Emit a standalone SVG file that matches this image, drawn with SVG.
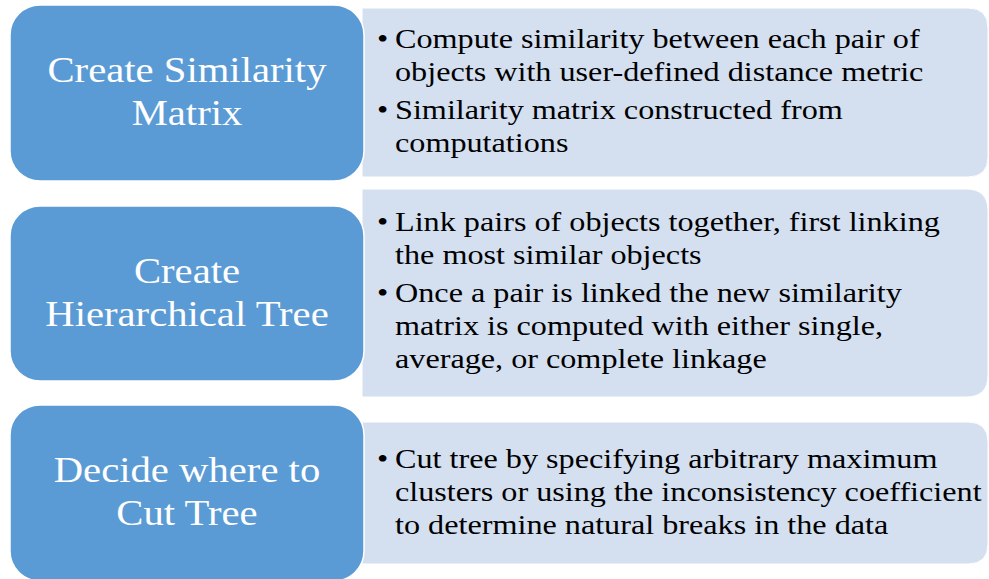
<svg xmlns="http://www.w3.org/2000/svg" width="989" height="579" viewBox="0 0 989 579">
<style>
.lb{fill:#D4DFF0;stroke:#FFFFFF;stroke-width:1}
.bb{fill:#5B9BD5;stroke:#FFFFFF;stroke-width:1.5}
.t{font-family:"Liberation Serif","Times New Roman",serif;font-size:36px;fill:#FFFFFF;text-anchor:middle}
.b{font-family:"Liberation Serif","Times New Roman",serif;font-size:28px;fill:#000000}
</style>
<rect width="989" height="579" fill="#FFFFFF"/>
<g id="node-1">
<path class="lb" d="M362,8 H968 Q988,8 988,28 V157 Q988,177 968,177 H362 Z"/>
<rect class="bb" x="10" y="5" width="354" height="176" rx="30" ry="30"/>
<g transform="scale(1.13 1)">
<text class="t" x="165.5" y="82">Create Similarity</text>
<text class="t" x="165.5" y="125">Matrix</text>
</g>
<g transform="scale(1.15 1)">
<text class="b" x="327.8" y="48">•</text>
<text class="b" x="343.5" y="48">Compute similarity between each pair of</text>
<text class="b" x="343.5" y="81">objects with user-defined distance metric</text>
<text class="b" x="327.8" y="119">•</text>
<text class="b" x="343.5" y="119">Similarity matrix constructed from</text>
<text class="b" x="343.5" y="152">computations</text>
</g>
</g>
<g id="node-2">
<path class="lb" d="M362,189 H966 Q988,189 988,211 V375 Q988,397 966,397 H362 Z"/>
<rect class="bb" x="10" y="206" width="354" height="175" rx="30" ry="30"/>
<g transform="scale(1.13 1)">
<text class="t" x="165.5" y="283">Create</text>
<text class="t" x="165.5" y="326">Hierarchical Tree</text>
</g>
<g transform="scale(1.15 1)">
<text class="b" x="327.8" y="231">•</text>
<text class="b" x="343.5" y="231">Link pairs of objects together, first linking</text>
<text class="b" x="343.5" y="264">the most similar objects</text>
<text class="b" x="327.8" y="302">•</text>
<text class="b" x="343.5" y="302">Once a pair is linked the new similarity</text>
<text class="b" x="343.5" y="335">matrix is computed with either single,</text>
<text class="b" x="343.5" y="368">average, or complete linkage</text>
</g>
</g>
<g id="node-3">
<path class="lb" d="M362,422 H968 Q988,422 988,442 V544 Q988,564 968,564 H362 Z"/>
<rect class="bb" x="10" y="405" width="354" height="176" rx="30" ry="30"/>
<g transform="scale(1.13 1)">
<text class="t" x="165.5" y="482">Decide where to</text>
<text class="t" x="165.5" y="525">Cut Tree</text>
</g>
<g transform="scale(1.15 1)">
<text class="b" x="327.8" y="468">•</text>
<text class="b" x="343.5" y="468">Cut tree by specifying arbitrary maximum</text>
<text class="b" x="343.5" y="501">clusters or using the inconsistency coefficient</text>
<text class="b" x="343.5" y="534">to determine natural breaks in the data</text>
</g>
</g>
<g id="connectors"></g>
</svg>
